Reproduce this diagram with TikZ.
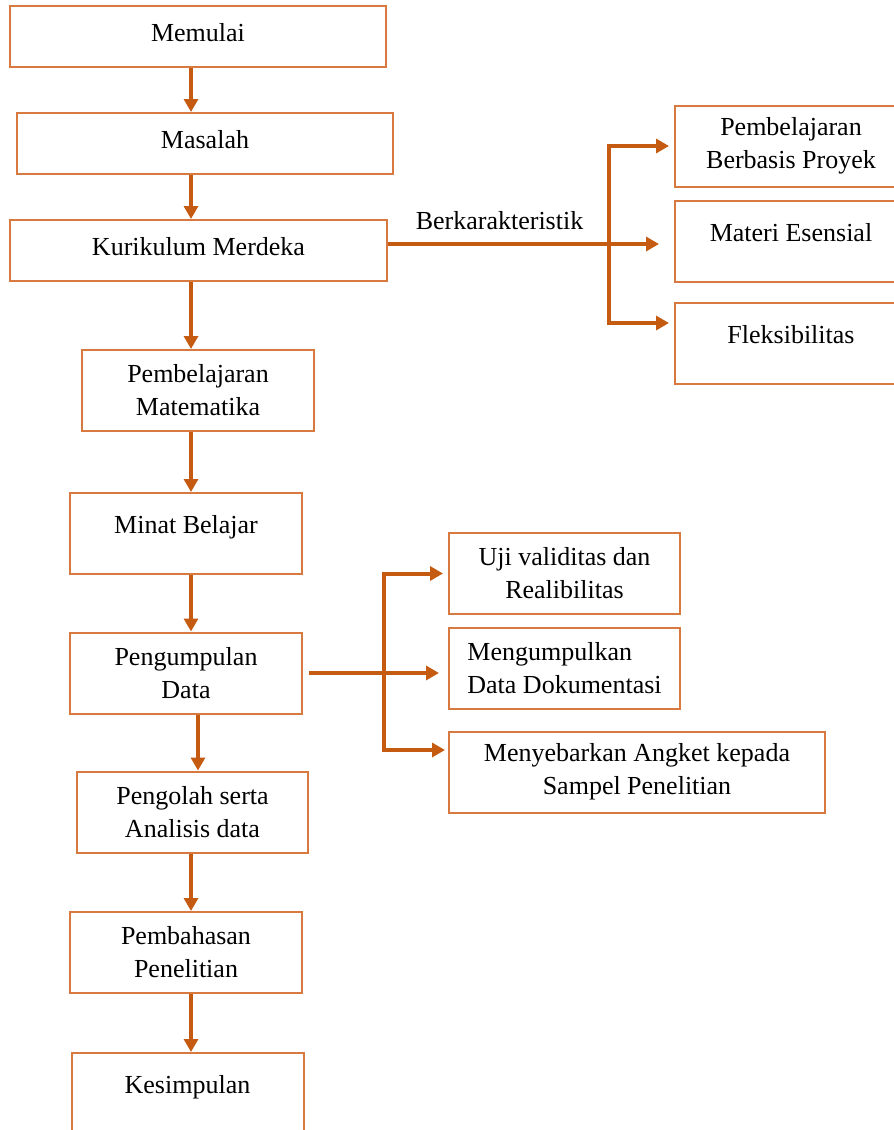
\documentclass[tikz,border=0pt]{standalone}
\usepackage{fontspec}
\setmainfont{Liberation Serif}
\usetikzlibrary{arrows.meta}

\definecolor{boxline}{HTML}{D87A40}
\definecolor{arrowline}{HTML}{C55A11}

\begin{document}
\begin{tikzpicture}[x=1pt, y=-1pt, >={Triangle[length=13pt, width=14pt]},
    every node/.style={font=\fontsize{26}{33}\selectfont},
    box/.style={draw=boxline, line width=2pt, inner sep=0pt, minimum width=232pt, minimum height=81pt, align=center},
    wide/.style={box, minimum width=376pt, minimum height=61pt},
    oneline/.style={text height=17pt, text depth=7pt},
    upline/.style={text height=17pt, text depth=17pt},
    arr/.style={->, draw=arrowline, line width=4pt}]
    \useasboundingbox (0,0) rectangle (894,1130);

    % main column
    \node[wide, oneline] (memulai) at (198,36.5) {Memulai};
    \node[wide, oneline] (masalah) at (205,143.5) {Masalah};
    \node[wide, oneline, minimum width=377pt] (kurikulum) at (198.5,250.5) {Kurikulum Merdeka};
    \node[box] (pembmat) at (198,390.5) {Pembelajaran\\Matematika};
    \node[box, upline] (minat) at (186,533.5) {Minat Belajar};
    \node[box] (kumpul) at (186,673) {Pengumpulan\\Data};
    \node[box, minimum width=231pt] (olah) at (192.5,812) {Pengolah serta\\Analisis data};
    \node[box] (bahas) at (186,952.5) {Pembahasan\\Penelitian};
    \node[box, upline] (simpul) at (187.5,1093.5) {Kesimpulan};

    % characteristics
    \node[box] (proyek) at (791,146) {Pembelajaran\\Berbasis Proyek};
    \node[box, upline] (esensial) at (791,241) {Materi Esensial};
    \node[box, upline] (fleksi) at (791,343.5) {Fleksibilitas};

    % data collection
    \node[box, minimum width=231pt] (uji) at (564.5,573.5) {Uji validitas dan\\Realibilitas};
    \node[box, minimum width=231pt, align=left] (dokumen) at (564.5,668.5) {Mengumpulkan\\Data Dokumentasi};
    \node[box, minimum width=376pt] (angket) at (637,772) {Menyebarkan Angket kepada\\Sampel Penelitian};

    \coordinate (ax) at (191,0);
    \coordinate (bx) at (198,0);
    \coordinate (kjoin) at (609,244);
    \coordinate (kend) at (609,323);
    \coordinate (pend) at (384,750);

    \draw[arr] (memulai.south -| ax) -- (masalah.north -| ax);
    \draw[arr] (masalah.south -| ax) -- (kurikulum.north -| ax);
    \draw[arr] (kurikulum.south -| ax) -- (pembmat.north -| ax);
    \draw[arr] (pembmat.south -| ax) -- (minat.north -| ax);
    \draw[arr] (minat.south -| ax) -- (kumpul.north -| ax);
    \draw[arr] (kumpul.south -| bx) -- (olah.north -| bx);
    \draw[arr] (olah.south -| ax) -- (bahas.north -| ax);
    \draw[arr] (bahas.south -| ax) -- (simpul.north -| ax);

    \draw[arr, shorten >=15pt] (kurikulum.east |- kjoin) -- (esensial.west |- kjoin)
        node[pos=0.39, above=9pt] (ciri) {Berkarakteristik};
    \draw[arr, <->, shorten <=5pt, shorten >=5pt] (proyek.west) -| (kend) -- (fleksi.west |- kend);

    \draw[arr, shorten <=6pt, shorten >=9pt] (kumpul.east) -- (dokumen.west |- kumpul.east);
    \draw[arr, <->, shorten <=5pt, shorten >=3pt] (uji.west) -| (pend) -- (angket.west |- pend);
\end{tikzpicture}
\end{document}
